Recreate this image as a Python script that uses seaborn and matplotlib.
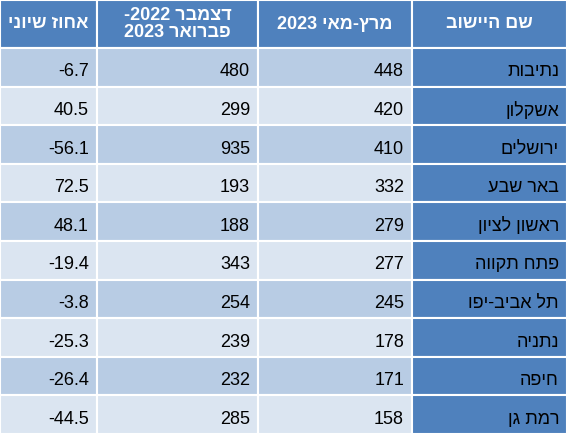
import matplotlib
matplotlib.use("Agg")
import matplotlib.pyplot as plt
from matplotlib.patches import Rectangle
import seaborn as sns

# data (logical Hebrew order)
towns = ["נתיבות", "אשקלון", "ירושלים", "באר שבע", "ראשון לציון",
         "פתח תקווה", "תל אביב-יפו", "נתניה", "חיפה", "רמת גן"]
mar_may_2023 = [448, 420, 410, 332, 279, 277, 245, 178, 171, 158]
dec22_feb23 = [480, 299, 935, 193, 188, 343, 254, 239, 232, 285]
pct_change = [-6.7, 40.5, -56.1, 72.5, 48.1, -19.4, -3.8, -25.3, -26.4, -44.5]

# header texts, already in visual (left-to-right) order
hdr_pct = "ינויש זוחא"
hdr_dec = "-2022 רבמצד\n2023 ראורבפ"
hdr_mar = "2023 יאמ-ץרמ"
hdr_town = "בושייה םש"


def vis(s):
    return s[::-1]


sns.set_theme(style="white")
plt.rcParams["font.family"] = ["Liberation Sans", "DejaVu Sans"]

W, H = 567, 434
fig = plt.figure(figsize=(W / 100, H / 100), dpi=100)
ax = fig.add_axes([0, 0, 1, 1])
ax.set_xlim(0, W)
ax.set_ylim(H, 0)
ax.axis("off")

col_edges = [0, 97, 258, 412, W]
head_h = 48
row_h = (H - head_h) / len(towns)

header_c = "#4F81BD"
light_a = "#B8CCE4"
light_b = "#DBE5F1"

def cell(x0, x1, y0, y1, color):
    ax.add_patch(Rectangle((x0, y0), x1 - x0, y1 - y0, facecolor=color,
                           edgecolor="white", linewidth=1.5))

# header
for i, txt in enumerate([hdr_pct, hdr_dec, hdr_mar, hdr_town]):
    x0, x1 = col_edges[i], col_edges[i + 1]
    cell(x0, x1, 0, head_h, header_c)
    ax.text((x0 + x1) / 2, head_h / 2, txt, color="white", fontsize=13,
            fontweight="bold", ha="center", va="center", linespacing=1.05)

# body
for r, town in enumerate(towns):
    y0 = head_h + r * row_h
    y1 = y0 + row_h
    bg = light_a if r % 2 == 0 else light_b
    vals = [f"{pct_change[r]}", f"{dec22_feb23[r]}", f"{mar_may_2023[r]}", vis(town)]
    for c, v in enumerate(vals):
        x0, x1 = col_edges[c], col_edges[c + 1]
        cell(x0, x1, y0, y1, header_c if c == 3 else bg)
        ax.text(x1 - 8, y0 + row_h * 0.62, v, color="black", fontsize=13,
                ha="right", va="center")

fig.savefig("out.png", dpi=100)
